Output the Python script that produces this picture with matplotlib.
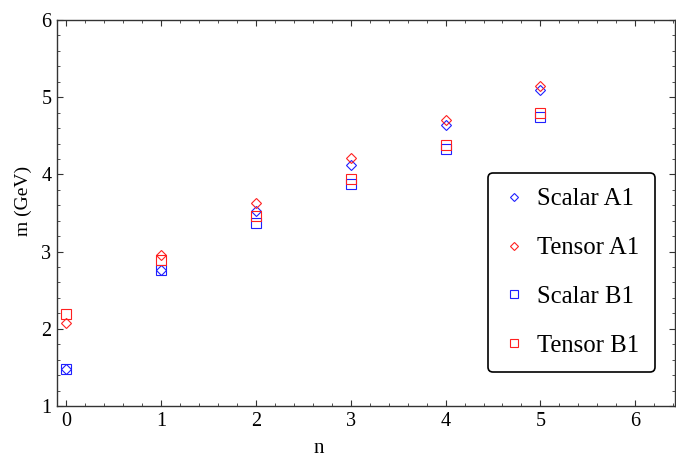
import matplotlib
matplotlib.use("Agg")
import matplotlib.pyplot as plt
from matplotlib.ticker import MultipleLocator

n = [0, 1, 2, 3, 4, 5]
scalar_a1 = [1.48, 2.76, 3.52, 4.12, 4.64, 5.09]
tensor_a1 = [2.08, 2.95, 3.63, 4.21, 4.70, 5.14]
scalar_b1 = [1.48, 2.76, 3.37, 3.87, 4.33, 4.75]
tensor_b1 = [2.19, 2.89, 3.46, 3.94, 4.38, 4.79]

plt.rcParams['font.family'] = ['Liberation Serif', 'DejaVu Serif']

fig = plt.figure(figsize=(6.76, 4.59), dpi=100)
ax = fig.add_axes([0.0843, 0.1155, 0.9142, 0.8409])

blue = '#2020ff'
red = '#ff2020'
ax.plot(n, scalar_a1, 'D', ms=4.7, mfc='none', mec=blue, mew=0.8, label='Scalar A1')
ax.plot(n, tensor_a1, 'D', ms=4.7, mfc='none', mec=red, mew=0.8, label='Tensor A1')
ax.plot(n, scalar_b1, 's', ms=6.7, mfc='none', mec=blue, mew=0.8, label='Scalar B1')
ax.plot(n, tensor_b1, 's', ms=6.7, mfc='none', mec=red, mew=0.8, label='Tensor B1')

ax.set_xlim(-0.1, 6.42)
ax.set_ylim(1, 6)
ax.xaxis.set_major_locator(MultipleLocator(1))
ax.xaxis.set_minor_locator(MultipleLocator(0.2))
ax.yaxis.set_major_locator(MultipleLocator(1))
ax.yaxis.set_minor_locator(MultipleLocator(0.2))
ax.tick_params(which='both', direction='in', top=True, right=True,
               colors='#333333', labelcolor='black', labelsize=14.5)
ax.tick_params(which='major', length=4.5, width=0.8, pad=4)
ax.tick_params(which='minor', length=2.2, width=0.6)
for s in ax.spines.values():
    s.set_color('#333333')
    s.set_linewidth(1.0)

ax.set_xlabel('n', fontsize=15)
ax.set_ylabel('m (GeV)', fontsize=14)
ax.xaxis.set_label_coords(0.423, -0.085)
ax.yaxis.set_label_coords(-0.041, 0.53)

leg = ax.legend(loc='upper left', bbox_to_anchor=(0.698, 0.604), fontsize=17.8,
                frameon=True, fancybox=True, edgecolor='black', framealpha=1,
                handlelength=0.8, handletextpad=0.55, labelspacing=1.07,
                borderpad=0.62, borderaxespad=0, markerscale=0.9)
leg.get_frame().set_linewidth(1.2)

fig.savefig('out.png', dpi=100)
